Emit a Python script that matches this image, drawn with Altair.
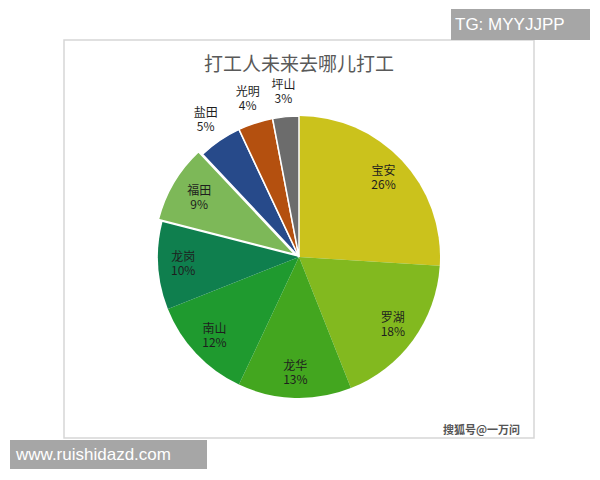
import math
import altair as alt
import pandas as pd

names = ["宝安", "罗湖", "龙华", "南山", "龙岗", "福田", "盐田", "光明", "坪山"]
values = [26, 18, 13, 12, 10, 9, 5, 4, 3]
colors = ["#CBC21C", "#82B91F", "#43A61F", "#1F9A2F", "#0F7F4E",
          "#7DB858", "#274A8A", "#B4500F", "#6C6C6C"]

title_text = "打工人未来去哪儿打工"
wm_top = "TG: MYYJJPP"
wm_bottom = "www.ruishidazd.com"
wm_source = "搜狐号@一万问"

df = pd.DataFrame({"name": names, "value": values, "idx": list(range(len(names)))})

W, H = 470, 398
CX, CY, R = 235, 217, 141
theta_scale = alt.Scale(domain=[0, 100], range=[0, 2 * math.pi])
color = alt.Color("name:N", scale=alt.Scale(domain=names, range=colors), legend=None)

base = (
    alt.Chart(df)
    .transform_window(cum="sum(value)", sort=[{"field": "idx"}],
                      frame=[None, 0])
    .transform_calculate(start="datum.cum - datum.value",
                         mid="datum.cum - datum.value / 2",
                         pct="datum.value + '%'",
                         lr="datum.value < 6 ? 166 : 116")
)

def arcs(filter_expr, **kw):
    return base.transform_filter(filter_expr).mark_arc(radius=R, **kw).encode(
        x=alt.value(CX), y=alt.value(CY),
        theta=alt.Theta("start:Q", scale=theta_scale),
        theta2="cum:Q",
        color=color,
    )

main = arcs("datum.idx < 5")
futian = arcs("datum.name == '福田'", xOffset=-4, yOffset=-2.5,
              stroke="white", strokeWidth=1.5)
small = arcs("datum.idx > 5", stroke="white", strokeWidth=1.5)

def label_layer(field, baseline, dy):
    return base.mark_text(fontSize=12, font="Noto Sans CJK SC",
                          color="#1E1E1E", baseline=baseline, dy=dy).encode(
        x=alt.value(CX), y=alt.value(CY),
        theta=alt.Theta("mid:Q", scale=theta_scale),
        radius=alt.Radius("lr:Q", scale=None),
        text=f"{field}:N",
    )

names_lbl = label_layer("name", "bottom", 0)
pct_lbl = label_layer("pct", "top", 2)

title = alt.Chart(pd.DataFrame({"t": [title_text]})).mark_text(
    fontSize=19, font="Noto Sans CJK SC", color="#595959"
).encode(x=alt.value(CX), y=alt.value(25), text="t:N")

top_box = alt.Chart(pd.DataFrame({"t": [wm_top]})).mark_rect(color="#A6A6A6").encode(
    x=alt.value(387), x2=alt.value(526), y=alt.value(-31), y2=alt.value(0))
top_txt = alt.Chart(pd.DataFrame({"t": [wm_top]})).mark_text(
    fontSize=17, font="Liberation Sans", color="white", align="left", baseline="middle"
).encode(x=alt.value(391), y=alt.value(-15), text="t:N")

bot_box = alt.Chart(pd.DataFrame({"t": [wm_bottom]})).mark_rect(color="#A6A6A6").encode(
    x=alt.value(-54), x2=alt.value(143), y=alt.value(400), y2=alt.value(429))
bot_txt = alt.Chart(pd.DataFrame({"t": [wm_bottom]})).mark_text(
    fontSize=17, font="Liberation Sans", color="white", align="left", baseline="middle"
).encode(x=alt.value(-48), y=alt.value(415), text="t:N")

src_txt = alt.Chart(pd.DataFrame({"t": [wm_source]})).mark_text(
    fontSize=11, font="Noto Sans CJK SC", fontWeight="bold", color="#555555",
    align="right", baseline="middle"
).encode(x=alt.value(456), y=alt.value(391), text="t:N")

chart = alt.layer(
    main, futian, small, names_lbl, pct_lbl, title,
    top_box, top_txt, bot_box, bot_txt, src_txt
).properties(
    width=W, height=H,
    padding={"left": 56, "top": 32, "right": 58, "bottom": 34},
    autosize=alt.AutoSizeParams(type="none"),
).configure_view(stroke="#D6D6D6", strokeWidth=1.5)

chart.save("out.html", embed_options={"renderer": "svg", "actions": False})
